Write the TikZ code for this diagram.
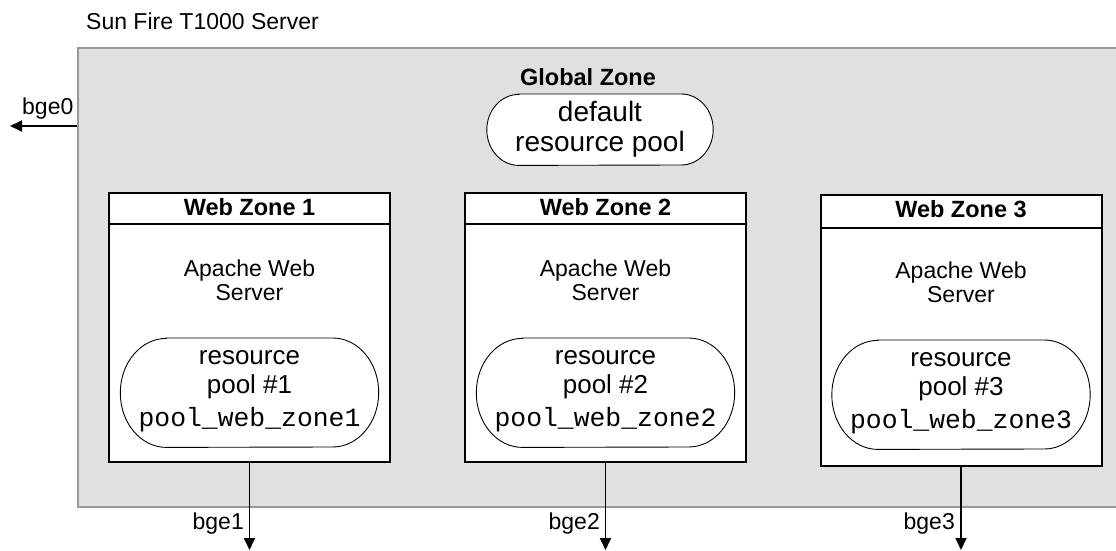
\documentclass[tikz,border=0pt]{standalone}
\usepackage{fontspec}
\setmainfont{Liberation Sans}
\newfontfamily\monof{Liberation Mono}
\usetikzlibrary{arrows.meta,calc}
\definecolor{srvfill}{HTML}{E0E0E0}
\definecolor{srvline}{HTML}{999999}
\newcommand{\ovalpool}[3]{% node name, x radius, y radius
  \draw[poolline] ($(#1.north west)+(#2,0)$) -- ($(#1.north east)+(-#2,0)$)
    arc[start angle=90,end angle=-90,x radius=#2bp,y radius=#3bp]
    -- ($(#1.south west)+(#2,0)$)
    arc[start angle=270,end angle=90,x radius=#2bp,y radius=#3bp] -- cycle;}
\begin{document}
\begin{tikzpicture}[x=1bp,y=-1bp,
  txt/.style={inner sep=0pt,anchor=base,font=\fontsize{23bp}{27bp}\selectfont},
  btxt/.style={inner sep=0pt,anchor=base,font=\fontsize{23.5bp}{27bp}\selectfont\bfseries},
  ptxt/.style={inner sep=0pt,anchor=base,font=\fontsize{26bp}{30bp}\selectfont},
  mtxt/.style={inner sep=0pt,anchor=base,font=\fontsize{26.4bp}{30bp}\monof},
  dtxt/.style={inner sep=0pt,anchor=base,font=\fontsize{28bp}{32bp}\selectfont},
  server/.style={draw=srvline,fill=srvfill,line width=2bp,inner sep=0pt,anchor=north west},
  zonebox/.style={draw=black,fill=white,line width=2bp,inner sep=0pt,anchor=north west,minimum width=281bp},
  poolbox/.style={inner sep=0pt,minimum width=258bp,minimum height=109bp,anchor=north},
  poolline/.style={draw=black,fill=white,line width=0.9bp},
  link/.style={line width=1.8bp,-{Triangle[length=12bp,width=11bp]}}
]
\useasboundingbox (0,0) rectangle (1116,551);

\node[txt,anchor=base west] (title) at (86,30) {Sun Fire T1000 Server};

\node[server,minimum width=1080bp,minimum height=459bp] (server) at (77,47) {};
\node[btxt] (gz) at (588,86) {Global Zone};
\node[poolbox,minimum width=226bp,minimum height=71bp] (dp) at (600,94) {};
\ovalpool{dp}{32}{35.5}
\node[dtxt] (dp1) at (600,122) {default};
\node[dtxt] (dp2) at (600,152) {resource pool};

\coordinate (b0) at (10,126);
\draw[link] (server.west |- b0) -- (b0);
\node[txt,anchor=base west] (l0) at (22,115) {bge0};

\foreach \n/\x/\y/\h/\hd/\lx in {1/108/192/269/32/244, 2/464/192/269/32/600, 3/819.5/194/271/34/955}{
  \node[zonebox,minimum height=\h bp] (z\n) at (\x,\y) {};
  \draw[line width=1.3bp] ($(z\n.north west)+(0,\hd)$) -- ($(z\n.north east)+(0,\hd)$);
  \node[btxt] (zt\n) at ($(z\n.north)+(0,24)$) {Web Zone \n};
  \node[txt] (a\n) at ($(z\n.north)+(0,85)$) {Apache Web};
  \node[txt] (s\n) at ($(z\n.north)+(0,109)$) {Server};
  \node[poolbox] (p\n) at ($(z\n.north)+(0,146)$) {};
  \ovalpool{p\n}{46}{54.5}
  \node[ptxt] (pr\n) at ($(p\n.north)+(0,27)$) {resource};
  \node[ptxt] (pn\n) at ($(p\n.north)+(0,55)$) {pool \#\n};
  \node[mtxt] (pm\n) at ($(p\n.north)+(0,88)$) {pool\_web\_zone\n};
  \draw[link] (z\n.south) -- (z\n.south |- 0,550);
  \node[txt,anchor=base east] (l\n) at (\lx,529) {bge\n};
}
\end{tikzpicture}
\end{document}
